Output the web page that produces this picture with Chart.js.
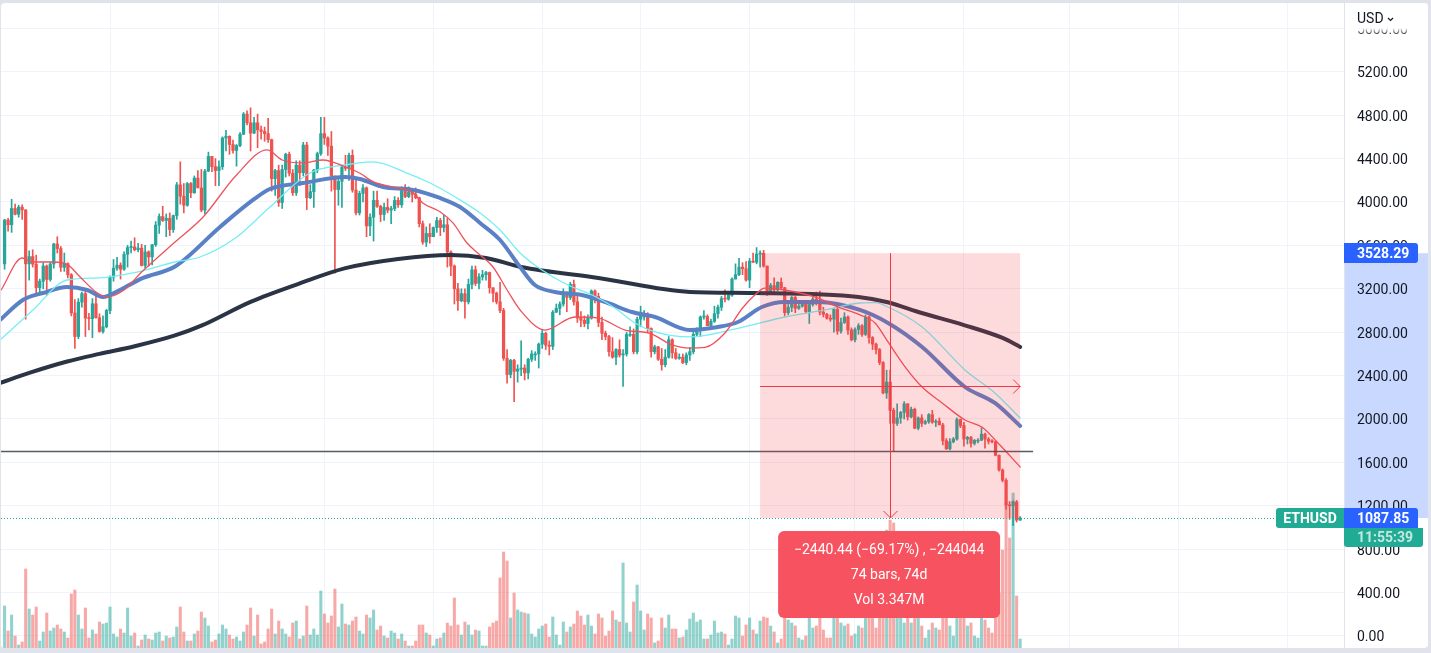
<!DOCTYPE html>
<html>
<head>
<meta charset="utf-8">
<title>ETHUSD</title>
<script src="https://cdn.jsdelivr.net/npm/chart.js@4.4.1/dist/chart.umd.min.js"></script>
<style>
  html, body { margin: 0; padding: 0; background: #e0e3eb; }
  body { width: 1431px; height: 653px; overflow: hidden; position: relative; }
  #frame { position: absolute; left: 1px; top: 3px; width: 1427px; height: 645px; background: #fff; border-radius: 4px; overflow: hidden; }
</style>
</head>
<body>
<div id="frame"><canvas id="chart"></canvas></div>
<script>
// ETHUSD daily candles, bar 0 = 1 Sep 2021, last bar = 17 Jun 2022
const opens = [
  3430, 3834, 3790, 3940, 3887, 3952, 3927, 3430, 3497, 3427,
  3211, 3270, 3410, 3286, 3429, 3613, 3571, 3398, 3432, 3330,
  2977, 2760, 3077, 3155, 2930, 2925, 3062, 2934, 2807, 2850,
  3000, 3307, 3390, 3418, 3380, 3518, 3580, 3586, 3560, 3575,
  3415, 3540, 3494, 3606, 3787, 3866, 3830, 3850, 3746, 3875,
  4158, 4054, 3970, 4170, 4085, 4220, 4130, 3925, 4285, 4420,
  4325, 4290, 4325, 4590, 4605, 4530, 4475, 4520, 4625, 4810,
  4730, 4635, 4730, 4665, 4650, 4630, 4575, 4215, 4290, 3995,
  4300, 4440, 4265, 4085, 4340, 4270, 4525, 4040, 4095, 4295,
  4445, 4630, 4590, 4515, 4240, 4115, 4190, 4320, 4310, 4430,
  4110, 3900, 4080, 4130, 3780, 3860, 4015, 3960, 3885, 3950,
  3925, 3940, 4015, 3975, 4105, 4050, 4095, 4070, 4040, 3800,
  3630, 3710, 3680, 3765, 3830, 3765, 3790, 3540, 3410, 3200,
  3090, 3155, 3080, 3240, 3375, 3250, 3310, 3330, 3350, 3210,
  3160, 3080, 3000, 2560, 2410, 2540, 2440, 2460, 2470, 2425,
  2550, 2600, 2600, 2690, 2790, 2680, 2670, 2985, 3020, 3060,
  3140, 3120, 3240, 3080, 2930, 2910, 2880, 2930, 3180, 3130,
  2890, 2790, 2760, 2620, 2570, 2640, 2590, 2600, 2780, 2780,
  2620, 2920, 2950, 2950, 2835, 2620, 2665, 2550, 2500, 2570,
  2730, 2610, 2560, 2570, 2520, 2590, 2620, 2780, 2815, 2940,
  2945, 2860, 2900, 2970, 3030, 3110, 3105, 3140, 3290, 3330,
  3400, 3385, 3280, 3455, 3445, 3520, 3528, 3410, 3170, 3230,
  3190, 3260, 3210, 2980, 3030, 3120, 3020, 3040, 3060, 2990,
  3055, 3105, 3080, 2985, 2965, 2930, 2920, 3010, 2810, 2890,
  2940, 2820, 2730, 2825, 2860, 2780, 2940, 2750, 2690, 2640,
  2520, 2240, 2340, 2080, 1960, 2010, 2060, 2140, 2020, 2090,
  1915, 2010, 1960, 1975, 2040, 1970, 1980, 1945, 1800, 1725,
  1790, 1815, 1995, 1940, 1815, 1830, 1775, 1805, 1805, 1860,
  1815, 1795, 1790, 1665, 1530, 1435, 1207, 1200, 1236, 1068
];
const highs = [
  3840, 3850, 4025, 3980, 3970, 3975, 3930, 3550, 3560, 3510,
  3290, 3440, 3420, 3445, 3620, 3680, 3590, 3530, 3440, 3340,
  3100, 3110, 3170, 3180, 2975, 3110, 3150, 2970, 2950, 3010,
  3320, 3470, 3490, 3440, 3540, 3600, 3640, 3670, 3620, 3610,
  3600, 3550, 3610, 3820, 3890, 3960, 3890, 3900, 3880, 4180,
  4370, 4170, 4180, 4180, 4240, 4290, 4300, 4300, 4460, 4420,
  4400, 4380, 4600, 4660, 4610, 4570, 4530, 4640, 4825, 4840,
  4868, 4780, 4810, 4700, 4690, 4770, 4580, 4300, 4340, 4340,
  4450, 4460, 4300, 4380, 4380, 4550, 4550, 4160, 4300, 4460,
  4780, 4780, 4600, 4650, 4240, 4230, 4330, 4430, 4450, 4480,
  4230, 4100, 4160, 4140, 3890, 4100, 4100, 3970, 3990, 4030,
  3960, 4050, 4040, 4140, 4160, 4140, 4100, 4130, 4045, 3825,
  3770, 3800, 3770, 3860, 3850, 3880, 3850, 3550, 3420, 3250,
  3200, 3200, 3290, 3410, 3410, 3340, 3370, 3360, 3355, 3210,
  3170, 3260, 3020, 2640, 2550, 2550, 2500, 2720, 2500, 2560,
  2630, 2620, 2700, 2820, 2800, 2720, 3000, 3060, 3080, 3200,
  3170, 3260, 3280, 3140, 2990, 2950, 2960, 3190, 3190, 3160,
  2940, 2810, 2770, 2750, 2650, 2730, 2640, 2800, 2850, 2830,
  2940, 3040, 3000, 2980, 2840, 2680, 2670, 2650, 2640, 2760,
  2740, 2650, 2600, 2600, 2610, 2660, 2800, 2840, 2950, 3000,
  2960, 2920, 3040, 3050, 3130, 3190, 3150, 3300, 3430, 3480,
  3440, 3450, 3480, 3530, 3580, 3550, 3555, 3410, 3250, 3300,
  3265, 3300, 3215, 3080, 3130, 3130, 3060, 3075, 3080, 3060,
  3120, 3170, 3180, 3030, 2975, 2960, 3020, 3040, 2930, 2980,
  2950, 2840, 2840, 2880, 2870, 2960, 2950, 2760, 2700, 2650,
  2530, 2450, 2450, 2100, 2140, 2070, 2160, 2140, 2110, 2100,
  2020, 2040, 1990, 2050, 2080, 1995, 2010, 1960, 1820, 1820,
  1830, 2010, 2000, 1970, 1840, 1840, 1810, 1820, 1920, 1870,
  1830, 1810, 1800, 1670, 1540, 1450, 1240, 1245, 1250, 1100
];
const lows = [
  3380, 3730, 3720, 3880, 3860, 3840, 2920, 3280, 3400, 3160,
  3160, 3200, 3140, 3270, 3390, 3530, 3360, 3360, 3300, 2950,
  2650, 2740, 3030, 2760, 2820, 2750, 2930, 2800, 2790, 2840,
  2970, 3270, 3370, 3290, 3370, 3400, 3530, 3550, 3540, 3410,
  3390, 3410, 3420, 3590, 3710, 3820, 3680, 3690, 3720, 3840,
  3980, 3900, 3960, 4040, 4080, 4130, 3910, 3890, 4280, 4280,
  4150, 4150, 4300, 4470, 4440, 4450, 4330, 4510, 4620, 4710,
  4470, 4630, 4500, 4580, 4560, 4550, 4100, 4060, 3960, 3940,
  4230, 4240, 4060, 4060, 4150, 4240, 3930, 4030, 3950, 4270,
  4430, 4530, 4430, 4100, 3345, 3970, 3950, 4290, 4200, 4090,
  3880, 3880, 4000, 3680, 3690, 3640, 3950, 3820, 3830, 3900,
  3800, 3920, 3950, 3950, 4040, 4040, 4000, 4030, 3770, 3610,
  3590, 3620, 3680, 3720, 3690, 3725, 3400, 3320, 3060, 3000,
  3080, 2930, 3060, 3200, 3230, 3200, 3280, 3280, 3160, 3080,
  3060, 2980, 2540, 2330, 2380, 2160, 2340, 2400, 2360, 2370,
  2530, 2540, 2470, 2650, 2640, 2590, 2640, 2980, 2960, 3040,
  2990, 3100, 3050, 2890, 2850, 2850, 2830, 2920, 3070, 2850,
  2730, 2730, 2580, 2560, 2500, 2570, 2300, 2580, 2760, 2600,
  2600, 2850, 2910, 2800, 2570, 2600, 2540, 2450, 2480, 2560,
  2560, 2550, 2550, 2510, 2500, 2540, 2600, 2760, 2760, 2920,
  2860, 2830, 2890, 2930, 3000, 3080, 3095, 3130, 3290, 3320,
  3330, 3270, 3210, 3440, 3430, 3400, 3400, 3140, 3150, 3170,
  3180, 3190, 2950, 2960, 2990, 2980, 3010, 3030, 2980, 2880,
  3040, 3050, 2960, 2940, 2920, 2900, 2800, 2780, 2790, 2880,
  2780, 2720, 2710, 2780, 2760, 2770, 2700, 2640, 2600, 2500,
  2230, 2190, 1960, 1705, 1940, 1960, 2000, 1990, 2010, 1910,
  1900, 1930, 1950, 1960, 1960, 1930, 1950, 1760, 1720, 1715,
  1780, 1805, 1920, 1750, 1770, 1740, 1760, 1780, 1800, 1730,
  1770, 1780, 1660, 1520, 1420, 1170, 1075, 1017, 1050, 1065
];
const closes = [
  3834, 3790, 3940, 3887, 3952, 3927, 3430, 3497, 3427, 3211,
  3270, 3410, 3286, 3429, 3613, 3571, 3398, 3432, 3330, 2977,
  2760, 3077, 3155, 2930, 2925, 3062, 2934, 2807, 2850, 3000,
  3307, 3390, 3418, 3380, 3518, 3580, 3586, 3560, 3575, 3415,
  3540, 3494, 3606, 3787, 3866, 3830, 3850, 3746, 3875, 4158,
  4054, 3970, 4170, 4085, 4220, 4130, 3925, 4285, 4420, 4325,
  4290, 4325, 4590, 4605, 4530, 4475, 4520, 4625, 4810, 4730,
  4635, 4730, 4665, 4650, 4630, 4575, 4215, 4290, 3995, 4300,
  4440, 4265, 4085, 4340, 4270, 4525, 4040, 4095, 4295, 4445,
  4630, 4590, 4515, 4240, 4115, 4190, 4320, 4310, 4430, 4110,
  3900, 4080, 4130, 3780, 3860, 4015, 3960, 3885, 3950, 3925,
  3940, 4015, 3975, 4105, 4050, 4095, 4070, 4040, 3800, 3630,
  3710, 3680, 3765, 3830, 3765, 3790, 3540, 3410, 3200, 3090,
  3155, 3080, 3240, 3375, 3250, 3310, 3330, 3350, 3210, 3160,
  3080, 3000, 2560, 2410, 2540, 2440, 2460, 2470, 2425, 2550,
  2600, 2600, 2690, 2790, 2680, 2670, 2985, 3020, 3060, 3140,
  3120, 3240, 3080, 2930, 2910, 2880, 2930, 3180, 3130, 2890,
  2790, 2760, 2620, 2570, 2640, 2590, 2600, 2780, 2780, 2620,
  2920, 2950, 2950, 2835, 2620, 2665, 2550, 2500, 2570, 2730,
  2610, 2560, 2570, 2520, 2590, 2620, 2780, 2815, 2940, 2945,
  2860, 2900, 2970, 3030, 3110, 3105, 3140, 3290, 3330, 3400,
  3385, 3280, 3455, 3445, 3520, 3528, 3410, 3170, 3230, 3190,
  3260, 3210, 2980, 3030, 3120, 3020, 3040, 3060, 2990, 3055,
  3105, 3080, 2985, 2965, 2930, 2920, 3010, 2810, 2890, 2940,
  2820, 2730, 2825, 2860, 2780, 2940, 2750, 2690, 2640, 2520,
  2240, 2340, 2080, 1960, 2010, 2060, 2140, 2020, 2090, 1915,
  2010, 1960, 1975, 2040, 1970, 1980, 1945, 1800, 1725, 1790,
  1815, 1995, 1940, 1815, 1830, 1775, 1805, 1805, 1860, 1815,
  1795, 1790, 1665, 1530, 1435, 1207, 1200, 1236, 1068, 1087.85
];
// volume, thousands of ETH
const volumes = [
  42, 17, 33, 12, 3, 6, 79, 39, 33, 41,
  7, 16, 35, 17, 20, 23, 19, 16, 10, 54,
  58, 33, 19, 40, 10, 18, 14, 26, 24, 25,
  41, 14, 11, 19, 15, 40, 12, 15, 2, 8,
  13, 9, 8, 15, 16, 7, 12, 10, 11, 21,
  41, 16, 7, 7, 14, 17, 36, 30, 22, 6,
  8, 14, 23, 19, 13, 9, 11, 7, 16, 23,
  40, 12, 33, 4, 6, 19, 39, 14, 27, 19,
  14, 11, 25, 27, 9, 12, 42, 13, 19, 13,
  57, 34, 25, 32, 59, 21, 44, 24, 23, 27,
  31, 17, 14, 33, 30, 38, 18, 22, 12, 10,
  17, 15, 9, 14, 7, 2, 2, 7, 23, 23,
  15, 13, 2, 9, 10, 15, 25, 22, 50, 23,
  13, 26, 23, 13, 18, 17, 2, 2, 21, 25,
  27, 70, 96, 87, 30, 55, 38, 36, 35, 34,
  14, 11, 19, 22, 24, 11, 31, 13, 3, 26,
  16, 21, 24, 37, 32, 23, 33, 22, 14, 34,
  30, 12, 17, 37, 28, 26, 85, 25, 16, 46,
  63, 37, 18, 34, 30, 5, 7, 30, 20, 33,
  19, 19, 10, 11, 18, 29, 35, 26, 28, 9,
  9, 13, 27, 15, 16, 14, 3, 9, 32, 30,
  12, 23, 30, 18, 14, 27, 31, 30, 22, 16,
  5, 9, 45, 28, 25, 22, 10, 8, 12, 30,
  20, 22, 30, 18, 10, 10, 32, 35, 25, 22,
  24, 12, 14, 22, 20, 38, 45, 30, 20, 40,
  115, 118, 128, 125, 70, 35, 25, 35, 25, 40,
  30, 22, 10, 18, 25, 20, 18, 45, 40, 22,
  12, 40, 30, 35, 22, 25, 12, 10, 30, 28,
  20, 15, 40, 55, 98, 145, 110, 155, 52, 9
];

// moving averages at these bar positions
const fastBars = [-1, 5, 8, 14, 18, 21.5, 26, 29, 34, 39, 48.5, 56.5, 66, 74.7, 79, 85, 90.6, 97, 101, 105,
  110.5, 116, 119, 124, 127.6, 131.6, 135.3, 139, 143, 146.7, 153.8, 162.3, 169, 176.6, 183.7, 189.4, 195,
  199.3, 205, 210, 213.5, 216.3, 222, 231.5, 237.2, 243.4, 247.7, 251.4, 256.3, 261.1, 266.8, 273.3, 278.1, 282.7, 289];
const fastMa = [3189, 3484, 3447, 3447, 3420, 3309, 3171, 3125, 3189, 3355, 3631, 3862, 4249, 4480, 4387, 4360,
  4387, 4323, 4267, 4185, 4138, 4092, 3991, 3908, 3807, 3622, 3512, 3401, 3189, 3005, 2820, 2940, 2930, 2820,
  2790, 2691, 2654, 2660, 2793, 3023, 3143, 3207, 3189, 3115, 3032, 2959, 2885, 2710, 2479, 2295, 2148, 1991,
  1926, 1779, 1558];
const smaBars = [-1.3, 8.1, 17.8, 27.1, 36.5, 48.5, 55.6, 66.1, 75.5, 86.9, 96.9, 104.8, 114.5, 121.1, 128.7,
  135.3, 141, 146.7, 152.9, 160.3, 167.2, 173.7, 179.4, 185.1, 195, 208, 222.1, 233.5, 243.4, 247.7, 251.4,
  261.1, 273.3, 281.8, 289];
const smaMa = [2728, 3005, 3281, 3300, 3346, 3447, 3493, 3678, 3954, 4267, 4341, 4369, 4267, 4175, 4037, 3899,
  3742, 3530, 3373, 3235, 3143, 3023, 2885, 2802, 2756, 2830, 2940, 3005, 3069, 3072, 3032, 2848, 2452, 2240, 2009];
const midBars = [-1.3, 5.2, 10.9, 17.8, 23.5, 28, 32.8, 39.4, 48.5, 61.3, 70.7, 75.5, 85, 96.9, 101.1, 107.7,
  116.2, 123.9, 129.6, 135.3, 141, 146.7, 150.9, 156.6, 164.3, 171.7, 178.5, 185.1, 195, 203, 208.7, 215.5,
  222.1, 231.5, 243.4, 251.4, 261.1, 273.3, 281.8, 289];
const midMa = [2912, 3097, 3161, 3217, 3189, 3125, 3189, 3300, 3405, 3770, 4019, 4120, 4175, 4230, 4212, 4138,
  4111, 4037, 3954, 3807, 3650, 3401, 3235, 3171, 3143, 3069, 2986, 2940, 2820, 2848, 2894, 3032, 3078, 3078,
  3005, 2885, 2664, 2295, 2148, 1936];
const slowBars = [-1.3, 7, 17.8, 27, 37, 48.5, 56, 70, 84, 97, 112, 127, 137, 147, 169, 195, 213, 243, 251, 261, 273, 284, 289];
const slowMa = [2332, 2425, 2530, 2600, 2670, 2770, 2860, 3080, 3250, 3390, 3475, 3512, 3484, 3401, 3300, 3171,
  3161, 3125, 3078, 2977, 2866, 2747, 2664];

const priceTicks = [0, 400, 800, 1200, 1600, 2000, 2400, 2800, 3200, 3600, 4000, 4400, 4800, 5200, 5600];
const monthStarts = [30, 61, 91, 122, 153, 181, 212, 242, 273, 303, 334, 365];

const levelPrice = 1705;
const levelEndBar = 292.7;
const measureFrom = { bar: 215, price: 3528.29 };
const measureTo = { bar: 289, price: 1087.85 };
const measureText = ['\u22122440.44 (\u221269.17%) , \u2212244044', '74 bars, 74d', 'Vol 3.347M'];
const symbol = 'ETHUSD';
const countdown = '11:55:39';
const currency = 'USD';

const GREEN = '#26a69a';
const RED = '#ef5350';
const BLUE = '#2962ff';
const TEAL = '#22ab94';

Chart.defaults.font.family = 'Roboto, sans-serif';

const bars = closes.map((c, i) => i);
const isUp = i => closes[i] >= opens[i];

function maLine(label, xs, ys, color, width, order) {
  return {
    type: 'line', label, order,
    data: xs.map((b, k) => ({ x: b, y: ys[k] })),
    borderColor: color, borderWidth: width, pointRadius: 0, fill: false,
    cubicInterpolationMode: 'monotone', borderCapStyle: 'round', borderJoinStyle: 'round'
  };
}

function tag(ctx, text, x, yc, w, h, bg, fg, radii, center) {
  const top = Math.round(yc - h / 2);
  ctx.fillStyle = bg;
  ctx.beginPath();
  ctx.roundRect(x, top, w, h, radii);
  ctx.fill();
  ctx.fillStyle = fg;
  ctx.font = 'bold 14px Roboto';
  ctx.textBaseline = 'middle';
  ctx.textAlign = center ? 'center' : 'left';
  ctx.fillText(text, center ? x + w / 2 : x + 13, top + h / 2 + 1);
}

const overlay = {
  id: 'overlay',
  beforeDraw(chart) {
    // measured range shaded on the price scale
    const { ctx, chartArea: a, scales: { y } } = chart;
    const t = y.getPixelForValue(measureFrom.price), b = y.getPixelForValue(measureTo.price);
    ctx.save();
    ctx.fillStyle = 'rgba(41,98,255,0.25)';
    ctx.fillRect(a.right, t, chart.width - a.right, b - t);
    ctx.restore();
  },
  afterDatasetsDraw(chart) {
    const { ctx, chartArea: a, scales: { x, y } } = chart;
    ctx.save();
    // horizontal level
    const ly = Math.round(y.getPixelForValue(levelPrice)) + 0.5;
    ctx.strokeStyle = 'rgba(70,73,84,0.9)';
    ctx.lineWidth = 1.5;
    ctx.beginPath();
    ctx.moveTo(a.left, ly);
    ctx.lineTo(x.getPixelForValue(levelEndBar), ly);
    ctx.stroke();

    // measure box
    const x1 = x.getPixelForValue(measureFrom.bar), x2 = x.getPixelForValue(measureTo.bar);
    const y1 = y.getPixelForValue(measureFrom.price), y2 = y.getPixelForValue(measureTo.price);
    ctx.fillStyle = 'rgba(242,54,69,0.18)';
    ctx.fillRect(x1, y1, x2 - x1, y2 - y1);
    const mx = Math.round((x1 + x2) / 2) + 0.5, my = Math.round((y1 + y2) / 2) + 0.5;
    ctx.strokeStyle = '#f23645';
    ctx.lineWidth = 1;
    ctx.beginPath();
    ctx.moveTo(mx, y1); ctx.lineTo(mx, y2);
    ctx.moveTo(mx - 7, y2 - 7); ctx.lineTo(mx, y2); ctx.lineTo(mx + 7, y2 - 7);
    ctx.moveTo(x1, my); ctx.lineTo(x2, my);
    ctx.moveTo(x2 - 7, my - 7); ctx.lineTo(x2, my); ctx.lineTo(x2 - 7, my + 7);
    ctx.stroke();

    // last price line
    const py = Math.round(y.getPixelForValue(closes[closes.length - 1])) + 0.5;
    ctx.strokeStyle = GREEN;
    ctx.setLineDash([1, 2]);
    ctx.beginPath();
    ctx.moveTo(a.left, py); ctx.lineTo(a.right, py);
    ctx.stroke();
    ctx.restore();
  },
  afterDraw(chart) {
    const { ctx, chartArea: a, scales: { x, y } } = chart;
    const W = chart.width;
    ctx.save();
    // currency button fades out the top of the scale
    const g = ctx.createLinearGradient(0, 25, 0, 32);
    g.addColorStop(0, '#ffffff');
    g.addColorStop(1, 'rgba(255,255,255,0)');
    ctx.fillStyle = '#ffffff';
    ctx.fillRect(a.right + 1, 0, W - a.right - 1, 25);
    ctx.fillStyle = g;
    ctx.fillRect(a.right + 1, 25, W - a.right - 1, 7);
    ctx.fillStyle = '#131722';
    ctx.font = '14px Roboto';
    ctx.textAlign = 'left';
    ctx.textBaseline = 'middle';
    ctx.fillText(currency, a.right + 13, 16);
    ctx.strokeStyle = '#131722';
    ctx.lineWidth = 1.2;
    ctx.beginPath();
    ctx.moveTo(a.right + 44, 15); ctx.lineTo(a.right + 46.5, 17.5); ctx.lineTo(a.right + 49, 15);
    ctx.stroke();

    // price tags
    const yFrom = y.getPixelForValue(measureFrom.price);
    const yLast = y.getPixelForValue(closes[closes.length - 1]);
    tag(ctx, measureFrom.price.toFixed(2), a.right, yFrom, 74, 20, BLUE, '#fff', [0, 3, 3, 0]);
    tag(ctx, symbol, a.right - 68, yLast, 68, 20, TEAL, '#fff', [3, 0, 0, 3], true);
    tag(ctx, closes[closes.length - 1].toFixed(2), a.right, yLast, 74, 20, BLUE, '#fff', [0, 3, 0, 0]);
    tag(ctx, countdown, a.right, Math.round(yLast - 10) + 29.5, 79, 19, TEAL, 'rgba(255,255,255,0.72)', [0, 0, 3, 3]);

    // measure info box
    const cx = (x.getPixelForValue(measureFrom.bar) + x.getPixelForValue(measureTo.bar)) / 2 - 1;
    const top = y.getPixelForValue(measureTo.price) + 13;
    ctx.fillStyle = '#f7525f';
    ctx.beginPath();
    ctx.roundRect(cx - 111, top, 222, 87, 6);
    ctx.fill();
    ctx.fillStyle = '#ffffff';
    ctx.font = '14px Roboto';
    ctx.textAlign = 'center';
    measureText.forEach((t, k) => ctx.fillText(t, cx, top + 20 + k * 25));
    ctx.restore();
  }
};

new Chart(document.getElementById('chart'), {
  type: 'bar',
  data: {
    datasets: [
      maLine('EMA fast', fastBars, fastMa, '#f0525c', 1.3, 0),
      maLine('SMA', smaBars, smaMa, '#74eef4', 1.3, 1),
      maLine('EMA mid', midBars, midMa, '#5a80c6', 4, 2),
      maLine('MA slow', slowBars, slowMa, '#2b3445', 4, 3),
      {
        label: 'bodies', order: 4, grouped: false,
        data: bars.map(i => ({ x: i, y: [opens[i], closes[i]] })),
        backgroundColor: bars.map(i => isUp(i) ? GREEN : RED),
        barThickness: 2.6, minBarLength: 1
      },
      {
        label: 'wicks', order: 5, grouped: false,
        data: bars.map(i => ({ x: i, y: [lows[i], highs[i]] })),
        backgroundColor: bars.map(i => isUp(i) ? GREEN : RED),
        barThickness: 1
      },
      {
        label: 'volume', order: 6, grouped: false, yAxisID: 'vol',
        data: bars.map(i => ({ x: i, y: volumes[i] })),
        backgroundColor: bars.map(i => isUp(i) ? 'rgba(38,166,154,0.5)' : 'rgba(239,83,80,0.5)'),
        barThickness: 2.4
      }
    ]
  },
  options: {
    responsive: true,
    maintainAspectRatio: false,
    animation: false,
    events: [],
    layout: { padding: 0, autoPadding: false },
    plugins: { legend: { display: false }, tooltip: { enabled: false } },
    scales: {
      x: {
        type: 'linear', min: -1.02, max: 381.16, offset: false,
        grid: { color: '#f0f3fa', drawTicks: false, offset: false },
        border: { display: false },
        ticks: { display: false },
        afterBuildTicks: s => { s.ticks = monthStarts.map(v => ({ value: v })); },
        afterFit: s => { s.height = 0; s.paddingLeft = 0; s.paddingRight = 0; }
      },
      y: {
        type: 'linear', position: 'right', min: -110.6, max: 5834.1,
        grid: { color: '#f0f3fa', drawTicks: false },
        border: { color: '#e0e3eb' },
        ticks: { color: '#131722', padding: 13, labelOffset: 2, font: { size: 14 }, callback: v => v.toFixed(2) },
        afterBuildTicks: s => { s.ticks = priceTicks.map(v => ({ value: v })); },
        afterFit: s => { s.width = 84; s.paddingTop = 0; s.paddingBottom = 0; }
      },
      vol: { type: 'linear', axis: 'y', position: 'left', display: false, min: 0, max: 645 }
    }
  },
  plugins: [overlay]
});
</script>
</body>
</html>
